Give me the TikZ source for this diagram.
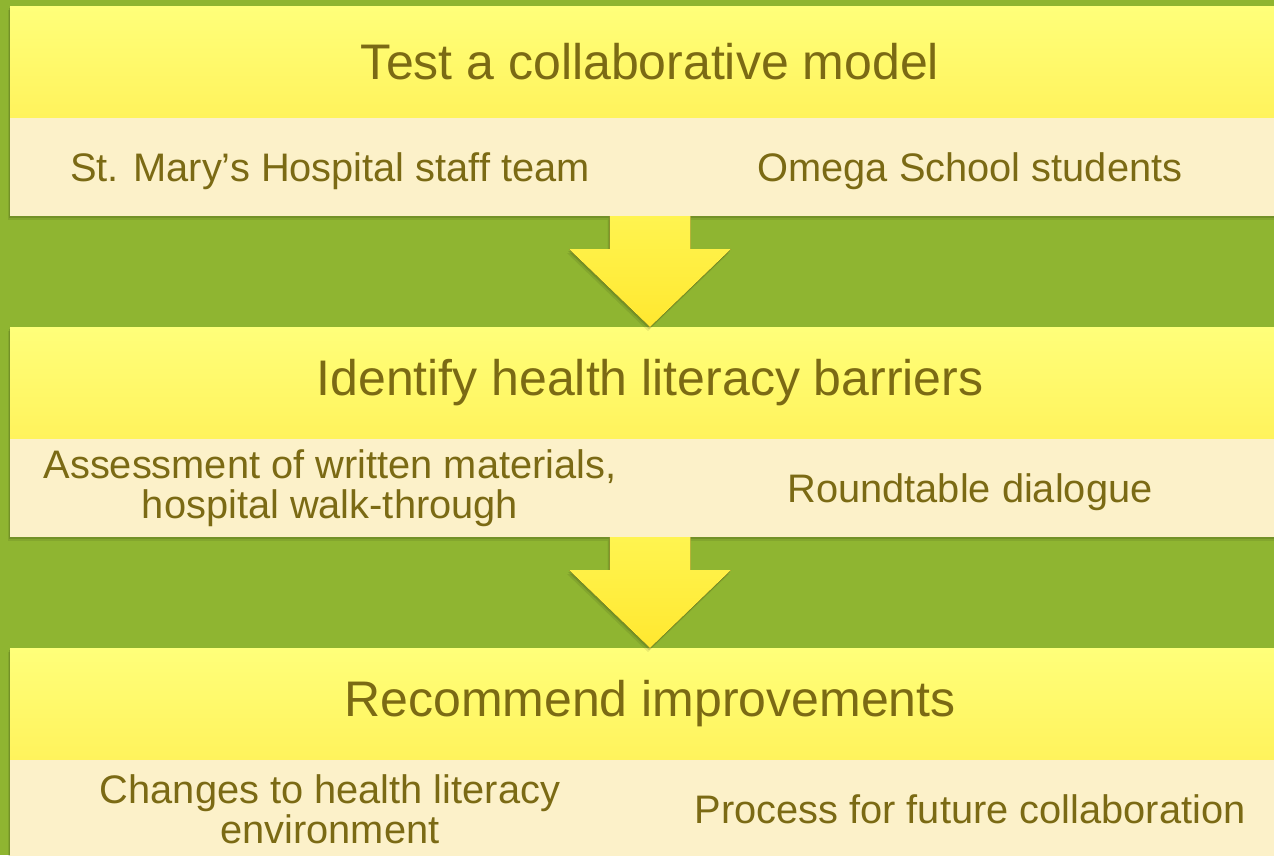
\documentclass[tikz,border=0pt]{standalone}
\usepackage{fontspec}
\setmainfont{Liberation Sans}
\usetikzlibrary{positioning,calc,shadows}

\definecolor{leafgreen}{HTML}{8FB531}
\definecolor{bannertop}{HTML}{FFFF7A}
\definecolor{bannerbottom}{HTML}{FFF35C}
\definecolor{creamfill}{HTML}{FCF1C9}
\definecolor{olivetext}{HTML}{7B6A14}
\definecolor{arrowtop}{HTML}{FFF450}
\definecolor{arrowbottom}{HTML}{FFE830}

\newcommand{\boxwidth}{1280pt}
\newcommand{\halfwidth}{640pt}
\newcommand{\stepgap}{111pt}
\newcommand{\shafthalf}{40.5}
\newcommand{\headhalf}{81}
\newcommand{\shaftlength}{33}

% block arrow from the bottom of one step to the top of the next
\newcommand{\flowarrow}[2]{%
  \fill[flow arrow] ($(#1)+(-\shafthalf,0)$) -- ++(0,\shaftlength)
    -- ++(\shafthalf-\headhalf,0) -- (#2)
    -- ($(#1)+(\headhalf,\shaftlength)$) -- ++(\shafthalf-\headhalf,0)
    -- ($(#1)+(\shafthalf,0)$) -- cycle;
}

\begin{document}
\begin{tikzpicture}[
    x=1pt, y=-1pt,
    every node/.style={outer sep=0pt, inner sep=0pt, text=olivetext},
    box shadow/.style={
        drop shadow={shadow xshift=-1pt, shadow yshift=-2pt, opacity=.12, fill=black},
        drop shadow={shadow xshift=-2pt, shadow yshift=-4pt, opacity=.08, fill=black}},
    low shadow/.style={
        drop shadow={shadow xshift=0pt, shadow yshift=-2pt, opacity=.12, fill=black},
        drop shadow={shadow xshift=0pt, shadow yshift=-4pt, opacity=.08, fill=black}},
    banner/.style={box shadow, minimum width=\boxwidth, minimum height=112pt,
        top color=bannertop, bottom color=bannerbottom,
        font=\fontsize{50}{56}\selectfont},
    detail/.style={minimum width=\halfwidth, minimum height=98pt,
        fill=creamfill, align=center, font=\fontsize{39.8}{40}\selectfont},
    left detail/.style={detail, box shadow},
    right detail/.style={detail, low shadow},
    one line/.style={text height=29pt, text depth=1pt},
    flow arrow/.style={box shadow, top color=arrowtop, bottom color=arrowbottom}
]

% BACKGROUND
\fill[leafgreen] (0,0) rectangle (1274,855);
\useasboundingbox (0,0) rectangle (1274,855);

% STEP 1
\node[banner, anchor=north west] (test) at (10,6) {Test a collaborative model};
\node[left detail, one line, below right=0pt of test.south west] (staff) {St. Mary’s Hospital staff team};
\node[right detail, one line, right=0pt of staff] (students) {Omega School students};

% STEP 2
\node[banner, below=\stepgap of staff.south east] (identify) {Identify health literacy barriers};
\node[left detail, below right=0pt of identify.south west] (assess) {Assessment of written materials,\\hospital walk-through};
\node[right detail, one line, right=0pt of assess] (roundtable) {Roundtable dialogue};

% STEP 3
\node[banner, below=\stepgap of assess.south east] (recommend) {Recommend improvements};
\node[left detail, below right=0pt of recommend.south west] (changes) {Changes to health literacy\\environment};
\node[right detail, one line, right=0pt of changes] (process) {Process for future collaboration};

% ARROWS
\flowarrow{staff.south east}{identify.north}
\flowarrow{assess.south east}{recommend.north}

\end{tikzpicture}
\end{document}
